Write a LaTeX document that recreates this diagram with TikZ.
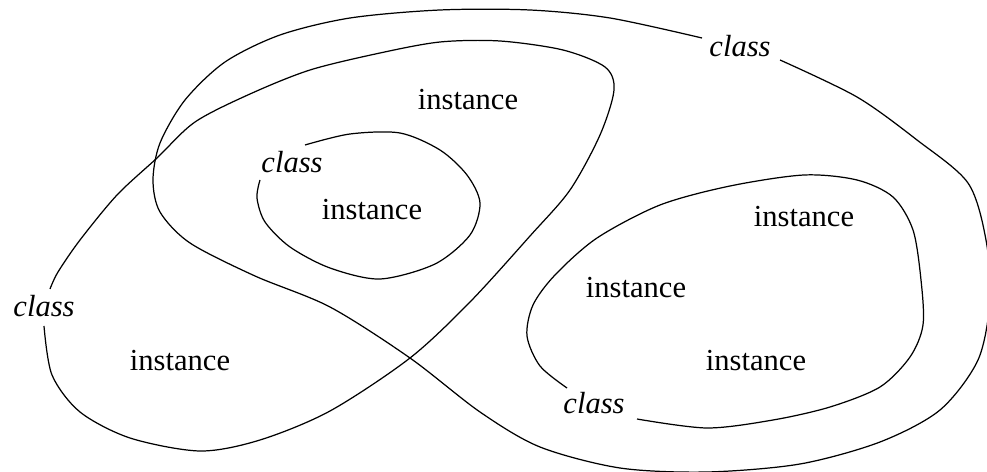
\documentclass[tikz,border=0pt]{standalone}
\usepackage{fontspec}
\setmainfont{Liberation Serif}
\usepackage{tikz}
\tikzset{
    blob/.style={line width=0.7pt, line join=round},
    instlabel/.style={font=\fontsize{17.4}{20}\selectfont, inner sep=0pt},
    classlabel/.style={font=\fontsize{17.4}{20}\selectfont\itshape, inner sep=0pt}
}

\begin{document}
\begin{tikzpicture}[x=0.02cm,y=-0.02cm]
    \useasboundingbox (0,0) rectangle (987,472);

    % outer class (top right)
    \draw[blob] plot[smooth] coordinates {(780,60) (857,97) (917,140) (968,183) (986,240) (990,300) (978,360)
        (940,410) (880,442) (800,464) (707,472) (620,468) (540,447) (480,412) (410,358) (330,307)
        (255,276) (190,243) (160,212) (153,180) (160,143) (185,100) (225,62) (280,35) (350,18)
        (440,10) (530,10) (610,18) (702,38)};
    \node[classlabel] (clsouter) at (740,46) {class};

    % left class
    \draw[blob] plot[smooth] coordinates {(44,326) (52,375) (80,412) (130,438) (200,451) (260,440) (330,411)
        (410,358) (470,302) (530,236) (570,190) (600,135) (614,90) (605,67) (563,50) (500,41) (440,42)
        (380,53) (310,70) (250,94) (195,122) (157,158) (117,195) (80,240) (58,272) (50,289)};
    \node[classlabel] (clsleft) at (44,306) {class};

    % small inner class
    \draw[blob] plot[smooth] coordinates {(305,145) (350,134) (400,133) (440,150) (467,175) (480,203)
        (470,235) (435,264) (380,279) (330,268) (290,247) (265,222) (257,198) (260,180)};
    \node[classlabel] (clsinner) at (292,162) {class};

    % lower right class
    \draw[blob] plot[smooth] coordinates {(567,388) (540,366) (527,336) (533,305) (555,275) (597,238)
        (660,205) (730,186) (804,175) (857,180) (893,197) (913,230) (921,280) (923,325) (910,357)
        (880,387) (830,407) (773,420) (707,428) (637,419)};
    \node[classlabel] (clsright) at (594,403) {class};

    % instances
    \node[instlabel] (insttop) at (468,100) {instance};
    \node[instlabel] (instinner) at (372,210) {instance};
    \node[instlabel] (instleft) at (180,361) {instance};
    \node[instlabel] (instra) at (804,217) {instance};
    \node[instlabel] (instrb) at (636,288) {instance};
    \node[instlabel] (instrc) at (756,361) {instance};
\end{tikzpicture}
\end{document}
